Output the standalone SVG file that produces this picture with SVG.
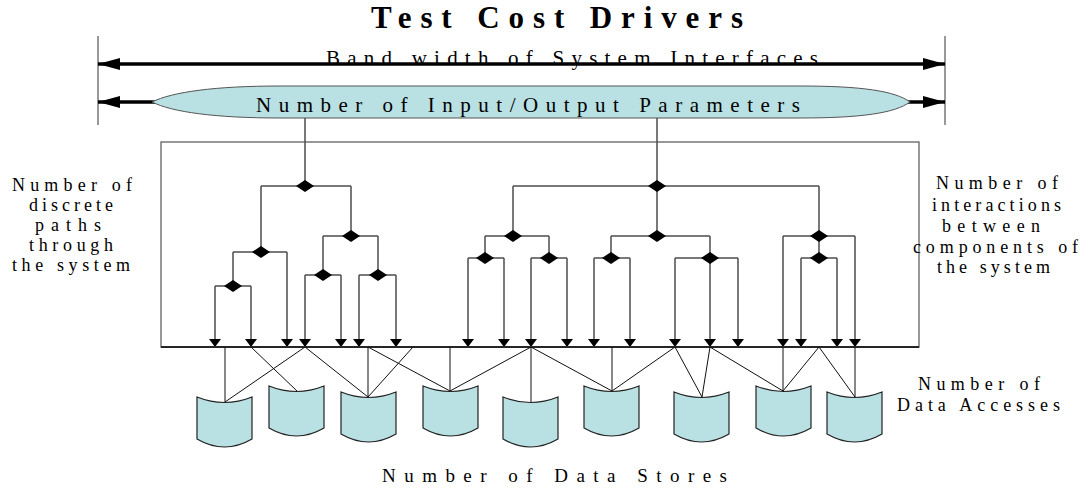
<svg xmlns="http://www.w3.org/2000/svg" xmlns:xlink="http://www.w3.org/1999/xlink" width="1085" height="489" viewBox="0 0 1085 489">
  <style>
    text { font-family: "Liberation Serif", "Times New Roman", serif; fill: #000; }
    .title { font-size: 31px; font-weight: bold; }
    .band { font-size: 21px; }
    .side { font-size: 18px; }
    .foot { font-size: 19px; }
    .span { stroke: #000; stroke-width: 3.5; fill: none; }
    .tick { stroke: #333; stroke-width: 1; fill: none; }
    .pill { fill: #b9e0e3; stroke: #555; stroke-width: 1; }
    .frame { fill: none; stroke: #777; stroke-width: 1.5; }
    .base { stroke: #000; stroke-width: 1.5; }
    .tree { stroke: #4d4d4d; stroke-width: 1.5; fill: none; }
    .flow { stroke: #4d4d4d; stroke-width: 1.5; fill: none; marker-end: url(#tip); }
    .link { stroke: #111; stroke-width: 1; fill: none; }
    .cyl { fill: #b9e0e3; stroke: #222; stroke-width: 1.2; }
  </style>
  <defs>
    <marker id="bigHead" viewBox="0 -6 22 12" refX="22" refY="0" markerWidth="22" markerHeight="12" markerUnits="userSpaceOnUse" orient="auto-start-reverse">
      <path d="M0,-6 L22,0 L0,6 Z" fill="#000"/>
    </marker>
    <marker id="tip" viewBox="0 -6 8 12" refX="8" refY="0" markerWidth="8" markerHeight="12" markerUnits="userSpaceOnUse" orient="auto">
      <path d="M0,-6 L8,0 L0,6 Z" fill="#000"/>
    </marker>
    <path id="dm" d="M-9,0 L0,-6 L9,0 L0,6 Z" fill="#000"/>
    <!-- data store drum, 55 wide, sagging top and bottom edges -->
    <path id="drum" d="M0,0 Q27.5,11 55,0 L55,42 Q27.5,58 0,42 Z"/>
  </defs>

  <!-- heading -->
  <g id="title">
    <text class="title" x="371" y="28" textLength="372" lengthAdjust="spacing">Test Cost Drivers</text>
  </g>

  <!-- interface band -->
  <g id="bandwidth">
    <text class="band" x="326" y="65" textLength="492" lengthAdjust="spacing">Band width of System Interfaces</text>
    <line class="tick" x1="98" y1="36" x2="98" y2="125"/>
    <line class="tick" x1="945" y1="36" x2="945" y2="125"/>
    <line class="span" x1="98" y1="64" x2="945" y2="64" marker-start="url(#bigHead)" marker-end="url(#bigHead)"/>
  </g>

  <g id="io-params">
    <line class="span" x1="98" y1="102" x2="155" y2="102" marker-start="url(#bigHead)"/>
    <line class="span" x1="905" y1="102" x2="945" y2="102" marker-end="url(#bigHead)"/>
    <path class="pill" d="M152,102 C172,92 215,86 280,86 L800,86 C862,86 895,91 910,102 C895,113 862,118 800,118 L280,118 C215,118 172,112 152,102 Z"/>
    <text class="band" x="256" y="112" textLength="544" lengthAdjust="spacing">Number of Input/Output Parameters</text>
  </g>

  <!-- system boundary -->
  <g id="system">
    <rect class="frame" x="161" y="142" width="758" height="205"/>
    <line class="base" x1="161" y1="347" x2="919" y2="347"/>
  </g>

  <!-- decision trees and data access links -->
  <g id="connectors">
    <!-- left tree -->
    <path class="tree" d="M305,118 V186 M261,186 H351 M261,186 V252 M351,186 V236
                          M233,252 H287 M233,252 V286 M215,286 H251
                          M323,236 H378 M323,236 V275 M378,236 V275
                          M305,275 H341 M359,275 H396"/>
    <path class="flow" d="M215,286 V347"/>
    <path class="flow" d="M251,286 V347"/>
    <path class="flow" d="M287,252 V347"/>
    <path class="flow" d="M305,275 V347"/>
    <path class="flow" d="M341,275 V347"/>
    <path class="flow" d="M359,275 V347"/>
    <path class="flow" d="M396,275 V347"/>

    <!-- right tree -->
    <path class="tree" d="M657,118 V236 M513,186 H819 M513,186 V236 M819,186 V258
                          M485,236 H549 M485,236 V258 M549,236 V258
                          M468,258 H504 M531,258 H567
                          M611,236 H710 M611,236 V258 M710,236 V258
                          M594,258 H630 M675,258 H738
                          M783,236 H855 M801,258 H837"/>
    <path class="flow" d="M468,258 V347"/>
    <path class="flow" d="M504,258 V347"/>
    <path class="flow" d="M531,258 V347"/>
    <path class="flow" d="M567,258 V347"/>
    <path class="flow" d="M594,258 V347"/>
    <path class="flow" d="M630,258 V347"/>
    <path class="flow" d="M675,258 V347"/>
    <path class="flow" d="M710,258 V347"/>
    <path class="flow" d="M738,258 V347"/>
    <path class="flow" d="M783,236 V347"/>
    <path class="flow" d="M801,258 V347"/>
    <path class="flow" d="M837,258 V347"/>
    <path class="flow" d="M855,236 V347"/>

    <!-- junctions -->
    <use xlink:href="#dm" x="305" y="186"/>
    <use xlink:href="#dm" x="261" y="252"/>
    <use xlink:href="#dm" x="351" y="236"/>
    <use xlink:href="#dm" x="233" y="286"/>
    <use xlink:href="#dm" x="323" y="275"/>
    <use xlink:href="#dm" x="378" y="275"/>
    <use xlink:href="#dm" x="657" y="186"/>
    <use xlink:href="#dm" x="513" y="236"/>
    <use xlink:href="#dm" x="485" y="258"/>
    <use xlink:href="#dm" x="549" y="258"/>
    <use xlink:href="#dm" x="657" y="236"/>
    <use xlink:href="#dm" x="611" y="258"/>
    <use xlink:href="#dm" x="710" y="258"/>
    <use xlink:href="#dm" x="819" y="236"/>
    <use xlink:href="#dm" x="819" y="258"/>

    <!-- data accesses -->
    <path class="link" d="M225,347 L225,402 M251,347 L297,391 M305,347 L225,402 M305,347 L368,397
                          M368,347 L368,397 M368,347 L450,391 M413,347 L368,397 M450,347 L450,391
                          M531,347 L450,391 M531,347 L531,402 M531,347 L612,391 M612,347 L612,391
                          M675,347 L612,391 M675,347 L702,397 M710,347 L702,397 M710,347 L783,391
                          M783,347 L783,391 M819,347 L783,391 M819,347 L855,397 M855,347 L855,397"/>
  </g>

  <!-- data stores -->
  <g id="store-1"><use class="cyl" xlink:href="#drum" x="197" y="397"/></g>
  <g id="store-2"><use class="cyl" xlink:href="#drum" x="269" y="386"/></g>
  <g id="store-3"><use class="cyl" xlink:href="#drum" x="341" y="392"/></g>
  <g id="store-4"><use class="cyl" xlink:href="#drum" x="423" y="386"/></g>
  <g id="store-5"><use class="cyl" xlink:href="#drum" x="503" y="397"/></g>
  <g id="store-6"><use class="cyl" xlink:href="#drum" x="584" y="386"/></g>
  <g id="store-7"><use class="cyl" xlink:href="#drum" x="674" y="392"/></g>
  <g id="store-8"><use class="cyl" xlink:href="#drum" x="756" y="386"/></g>
  <g id="store-9"><use class="cyl" xlink:href="#drum" x="827" y="392"/></g>

  <!-- side captions -->
  <g id="label-paths">
    <text class="side" x="12" y="191" textLength="120" lengthAdjust="spacing">Number of</text>
    <text class="side" x="29" y="211" textLength="84" lengthAdjust="spacing">discrete</text>
    <text class="side" x="35" y="231" textLength="66" lengthAdjust="spacing">paths</text>
    <text class="side" x="29" y="251" textLength="84" lengthAdjust="spacing">through</text>
    <text class="side" x="12" y="271" textLength="118" lengthAdjust="spacing">the system</text>
  </g>
  <g id="label-interactions">
    <text class="side" x="936" y="189" textLength="122" lengthAdjust="spacing">Number of</text>
    <text class="side" x="932" y="211" textLength="129" lengthAdjust="spacing">interactions</text>
    <text class="side" x="942" y="232" textLength="98" lengthAdjust="spacing">between</text>
    <text class="side" x="913" y="253" textLength="165" lengthAdjust="spacing">components of</text>
    <text class="side" x="937" y="273" textLength="113" lengthAdjust="spacing">the system</text>
  </g>
  <g id="label-accesses">
    <text class="side" x="918" y="390" textLength="122" lengthAdjust="spacing">Number of</text>
    <text class="side" x="897" y="411" textLength="163" lengthAdjust="spacing">Data Accesses</text>
  </g>
  <g id="label-stores">
    <text class="foot" x="382" y="482" textLength="345" lengthAdjust="spacing">Number of Data Stores</text>
  </g>
</svg>
